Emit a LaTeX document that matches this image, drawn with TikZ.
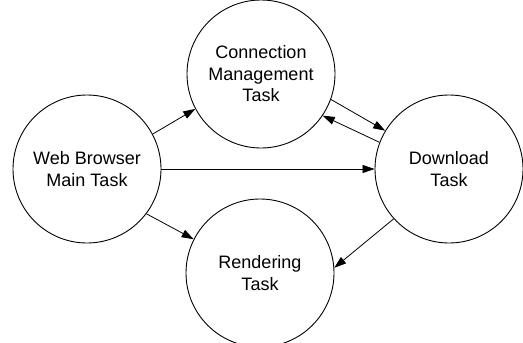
\documentclass[tikz,border=0pt]{standalone}
\usepackage{fontspec}
\setmainfont{Liberation Sans}
\usetikzlibrary{arrows.meta}
\begin{document}
\begin{tikzpicture}[x=1pt,y=-1pt,
  task/.style={circle,draw,line width=0.9pt,minimum size=148pt,inner sep=0pt,align=center,font=\fontsize{18}{21.5}\selectfont},
  conn/.style={line width=0.8pt,-{Triangle[length=12pt,width=8pt]}}]
\useasboundingbox (0,0) rectangle (523,343);
\node[task] (web) at (87,169) {Web Browser\\Main Task};
\node[task] (cm) at (261,74) {Connection\\Management\\Task};
\node[task] (dl) at (449,169) {Download\\Task};
\node[task] (rd) at (260,273) {Rendering\\Task};
\draw[conn] (web.28) -- (cm.208);
\draw[conn] (web) -- (dl);
\draw[conn] (web.-37) -- (rd.153);
\draw[conn] (cm.-20) -- (dl.149);
\draw[conn] (dl.159) -- (cm.-34);
\draw[conn] (dl.-138) -- (rd.4);
\end{tikzpicture}
\end{document}
